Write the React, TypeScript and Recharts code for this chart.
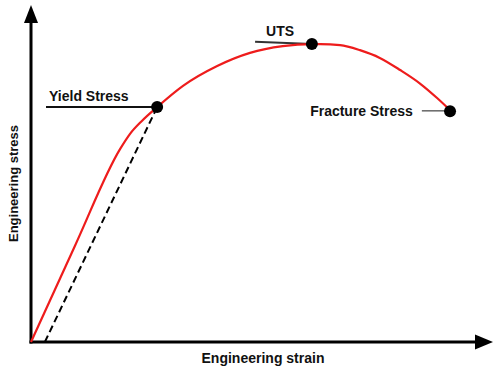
import React from "react";
import {
  ComposedChart,
  Line,
  XAxis,
  YAxis,
  ReferenceLine,
  ReferenceDot,
} from "recharts";

// Curve (unitless: strain 0-100, stress 0-100)
const strainValues = [0, 9.5, 19.3, 21.4, 24.0, 27.3, 32.9, 40.3, 47.4, 54.5, 60.8, 62.6, 66.9, 71.2, 75.5, 79.9, 84.2, 87.9, 90.7];
const stressValues = [0, 28.5, 57.3, 61.7, 65.6, 69.7, 76.0, 81.9, 85.8, 87.8, 88.4, 88.4, 88.1, 86.6, 84.3, 80.7, 76.7, 72.4, 68.8];

// Key points
const yieldPoint = { strain: 27.3, stress: 69.7 };
const utsPoint = { strain: 60.8, stress: 88.4 };
const fracturePoint = { strain: 90.7, stress: 68.5 };
const offsetStart = 3.0; // 0.2% offset line start

// Label leader line starts
const yieldLabelStart = 3.25;
const utsLabelStart = { strain: 48.5, stress: 89.1 };
const fractureLabel = { from: 84.6, to: 89.6, stress: 68.6 };

const labels = {
  yield: "Yield Stress",
  uts: "UTS",
  fracture: "Fracture Stress",
  x: "Engineering strain",
  y: "Engineering stress",
};

const data = strainValues.map((s, i) => ({ strain: s, stress: stressValues[i] }));

const FONT = "'Liberation Sans', Arial, sans-serif";

export default function App() {
  return (
    <div style={{ position: "absolute", left: 0, top: 0, width: 500, height: 374, background: "#fff" }}>
      <ComposedChart
        width={500}
        height={374}
        data={data}
        margin={{ top: 5, right: 7, bottom: 2, left: 0 }}
      >
        <XAxis
          type="number"
          dataKey="strain"
          domain={[0, 100]}
          height={30}
          tick={false}
          tickLine={false}
          axisLine={false}
          label={(props: any) => {
            const vb = props.viewBox;
            return (
              <text
                x={vb.x + vb.width / 2 + 1}
                y={vb.y + 21}
                textAnchor="middle"
                fontFamily={FONT}
                fontWeight="bold"
                fontSize={14}
                fill="#111"
              >
                {labels.x}
              </text>
            );
          }}
        />
        <YAxis
          type="number"
          domain={[0, 100]}
          width={31}
          tick={false}
          tickLine={false}
          axisLine={false}
          label={(props: any) => {
            const vb = props.viewBox;
            const cx = vb.x + 18;
            const cy = vb.y + vb.height / 2 + 10;
            return (
              <text
                x={cx}
                y={cy}
                transform={`rotate(-90 ${cx} ${cy})`}
                textAnchor="middle"
                fontFamily={FONT}
                fontWeight="bold"
                fontSize={13}
                fill="#111"
              >
                {labels.y}
              </text>
            );
          }}
        />

        {/* Axes with arrows */}
        <ReferenceLine
          segment={[{ x: 0, y: 0 }, { x: 100, y: 0 }]}
          shape={(p: any) => (
            <g>
              <line x1={p.x1 - 1.5} y1={p.y1} x2={p.x2 - 16} y2={p.y2} stroke="#000" strokeWidth={3} />
              <polygon
                points={`${p.x2},${p.y2} ${p.x2 - 18},${p.y2 - 7.5} ${p.x2 - 18},${p.y2 + 7.5}`}
                fill="#000"
              />
            </g>
          )}
        />
        <ReferenceLine
          segment={[{ x: 0, y: 0 }, { x: 0, y: 100 }]}
          shape={(p: any) => (
            <g>
              <line x1={p.x1} y1={p.y1 + 1.5} x2={p.x2} y2={p.y2 + 15} stroke="#000" strokeWidth={3} />
              <polygon
                points={`${p.x2},${p.y2} ${p.x2 - 7},${p.y2 + 18} ${p.x2 + 7},${p.y2 + 18}`}
                fill="#000"
              />
            </g>
          )}
        />

        {/* Offset (dashed) line */}
        <ReferenceLine
          segment={[
            { x: offsetStart, y: 0 },
            { x: yieldPoint.strain, y: yieldPoint.stress },
          ]}
          stroke="#000"
          strokeWidth={2}
          strokeDasharray="7 4"
        />

        {/* Label leader lines with text */}
        <ReferenceLine
          segment={[
            { x: yieldLabelStart, y: yieldPoint.stress },
            { x: yieldPoint.strain, y: yieldPoint.stress },
          ]}
          shape={(p: any) => (
            <g>
              <line x1={p.x1} y1={p.y1} x2={p.x2} y2={p.y2} stroke="#111" strokeWidth={2} />
              <text x={p.x1 + 3} y={p.y1 - 6} fontFamily={FONT} fontWeight="bold" fontSize={14} fill="#111">
                {labels.yield}
              </text>
            </g>
          )}
        />
        <ReferenceLine
          segment={[
            { x: utsLabelStart.strain, y: utsLabelStart.stress },
            { x: utsPoint.strain, y: utsPoint.stress },
          ]}
          shape={(p: any) => (
            <g>
              <line x1={p.x1} y1={p.y1} x2={p.x2} y2={p.y2} stroke="#333" strokeWidth={2} />
              <text x={p.x1 + 25} y={p.y1 - 6} textAnchor="middle" fontFamily={FONT} fontWeight="bold" fontSize={14} fill="#111">
                {labels.uts}
              </text>
            </g>
          )}
        />
        <ReferenceLine
          segment={[
            { x: fractureLabel.from, y: fractureLabel.stress },
            { x: fractureLabel.to, y: fractureLabel.stress },
          ]}
          shape={(p: any) => (
            <g>
              <line x1={p.x1} y1={p.y1} x2={p.x2} y2={p.y2} stroke="#666" strokeWidth={1.5} />
              <text x={p.x1 - 9} y={p.y1 + 5} textAnchor="end" fontFamily={FONT} fontWeight="bold" fontSize={14} fill="#111">
                {labels.fracture}
              </text>
            </g>
          )}
        />

        {/* Stress-strain curve */}
        <Line
          type="monotone"
          dataKey="stress"
          stroke="#ee1c1c"
          strokeWidth={2.2}
          dot={false}
          isAnimationActive={false}
        />

        <ReferenceDot x={yieldPoint.strain} y={yieldPoint.stress} r={6} fill="#000" stroke="none" />
        <ReferenceDot x={utsPoint.strain} y={utsPoint.stress} r={6} fill="#000" stroke="none" />
        <ReferenceDot x={fracturePoint.strain} y={fracturePoint.stress} r={6} fill="#000" stroke="none" />
      </ComposedChart>
    </div>
  );
}
